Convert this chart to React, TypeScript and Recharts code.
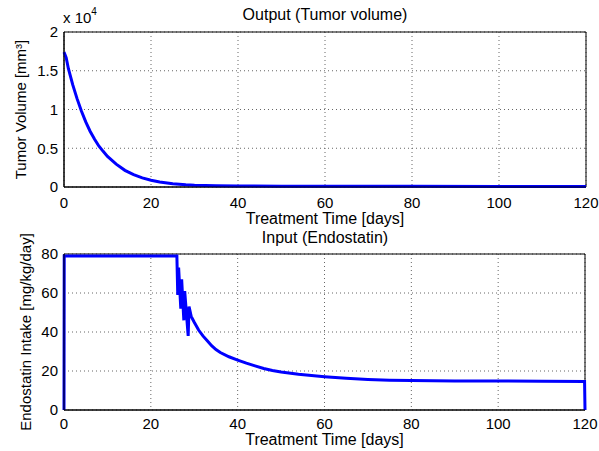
import { LineChart, Line, XAxis, YAxis, CartesianGrid, ReferenceArea } from 'recharts';

// Output: tumor volume [mm^3] over treatment time [days]
const tumorDays = [0, 0.5, 1, 2, 3, 4, 5, 6, 7, 8, 9, 10, 12, 14, 16, 18, 20, 22, 25, 28, 30, 35, 40, 50, 60, 80, 100, 120];
const tumorVolume = [17400, 16700, 15300, 13200, 11400, 9800, 8400, 7200, 6200, 5300, 4600, 3950, 2950, 2150, 1600, 1180, 870, 650, 430, 300, 240, 160, 125, 100, 90, 85, 80, 80];

// Input: endostatin intake [mg/kg/day]
const doseDays = [0, 0.05, 26, 26.2, 26.4, 26.9, 27.1, 27.6, 27.8, 28.6, 28.8, 29.3, 30, 31, 32, 33, 34, 35, 36, 38, 40, 42, 44, 46, 48, 50, 54, 60, 65, 70, 75, 80, 90, 100, 110, 119.9, 120];
const doseValue = [0, 79, 79, 59, 73, 52, 67, 46, 61, 38, 53, 48, 45, 41, 38, 35.5, 33, 31, 29.5, 27.3, 25.6, 24, 22.6, 21.3, 20.3, 19.5, 18.3, 17.1, 16.3, 15.7, 15.3, 15.1, 14.9, 14.9, 14.8, 14.6, 0];

const xTicks = [0, 20, 40, 60, 80, 100, 120];
const tumorTicks = [0, 5000, 10000, 15000, 20000];
const doseTicks = [0, 20, 40, 60, 80];

const tumorData = tumorDays.map((t, i) => ({ t, v: tumorVolume[i] }));
const doseData = doseDays.map((t, i) => ({ t, v: doseValue[i] }));

const FONT = '"Liberation Sans", Arial, sans-serif';
const tickStyle = { fill: '#000', fontSize: 15, fontFamily: FONT };
const labelStyle = { fill: '#000', fontSize: 15, fontFamily: FONT, textAnchor: 'middle' as const };
const xLabelStyle = { ...labelStyle, fontSize: 16 };

const titleStyle = (top: number): React.CSSProperties => ({
  position: 'absolute',
  top,
  left: 64,
  width: 522,
  textAlign: 'center',
  fontFamily: FONT,
  fontSize: 16,
  color: '#000',
  lineHeight: '18px',
});

export default function App() {
  return (
    <div style={{ position: 'absolute', left: 0, top: 0, width: 599, height: 451, background: '#fff', overflow: 'hidden' }}>
      <div style={titleStyle(6)}>Output (Tumor volume)</div>
      <div style={{ position: 'absolute', left: 63, top: 9, fontFamily: FONT, fontSize: 15, lineHeight: '17px' }}>
        x 10<sup style={{ fontSize: 10, verticalAlign: 0, position: 'relative', top: -8 }}>4</sup>
      </div>
      <div style={{ position: 'absolute', top: 0, left: 0 }}>
        <LineChart width={599} height={230} data={tumorData} margin={{ top: 32, right: 13, bottom: 0, left: 0 }}>
          <CartesianGrid stroke="#666" strokeDasharray="1 3" />
          <XAxis
            dataKey="t"
            type="number"
            domain={[0, 120]}
            ticks={xTicks}
            height={43}
            tick={tickStyle}
            tickLine={false}
            tickMargin={4}
            axisLine={{ stroke: '#000' }}
            label={{ value: 'Treatment Time [days]', position: 'insideBottom', offset: 6, style: xLabelStyle }}
          />
          <YAxis
            type="number"
            domain={[0, 20000]}
            ticks={tumorTicks}
            width={64}
            tick={tickStyle}
            tickLine={false}
            tickMargin={0}
            tickFormatter={(v: number) => String(v / 10000)}
            axisLine={{ stroke: '#000' }}
            label={{ value: 'Tumor Volume [mm³]', angle: -90, position: 'center', dx: -11, style: labelStyle }}
          />
          <ReferenceArea x1={0} x2={120} y1={0} y2={20000} fill="none" stroke="#000" />
          <Line type="linear" dataKey="v" stroke="#0000ff" strokeWidth={3} dot={false} isAnimationActive={false} />
        </LineChart>
      </div>

      <div style={titleStyle(229)}>Input (Endostatin)</div>
      <div style={{ position: 'absolute', top: 230, left: 0 }}>
        <LineChart width={599} height={221} data={doseData} margin={{ top: 24, right: 14, bottom: 0, left: 0 }}>
          <CartesianGrid stroke="#666" strokeDasharray="1 3" />
          <XAxis
            dataKey="t"
            type="number"
            domain={[0, 120]}
            ticks={xTicks}
            height={41}
            tick={tickStyle}
            tickLine={false}
            tickMargin={2}
            axisLine={{ stroke: '#000' }}
            label={{ value: 'Treatment Time [days]', position: 'insideBottom', offset: 6, style: xLabelStyle }}
          />
          <YAxis
            type="number"
            domain={[0, 80]}
            ticks={doseTicks}
            width={64}
            tick={tickStyle}
            tickLine={false}
            tickMargin={0}
            axisLine={{ stroke: '#000' }}
            label={{ value: 'Endostatin Intake [mg/kg/day]', angle: -90, position: 'center', dx: -6, style: labelStyle }}
          />
          <ReferenceArea x1={0} x2={120} y1={0} y2={80} fill="none" stroke="#000" />
          <Line type="linear" dataKey="v" stroke="#0000ff" strokeWidth={3} dot={false} isAnimationActive={false} />
        </LineChart>
      </div>
    </div>
  );
}
